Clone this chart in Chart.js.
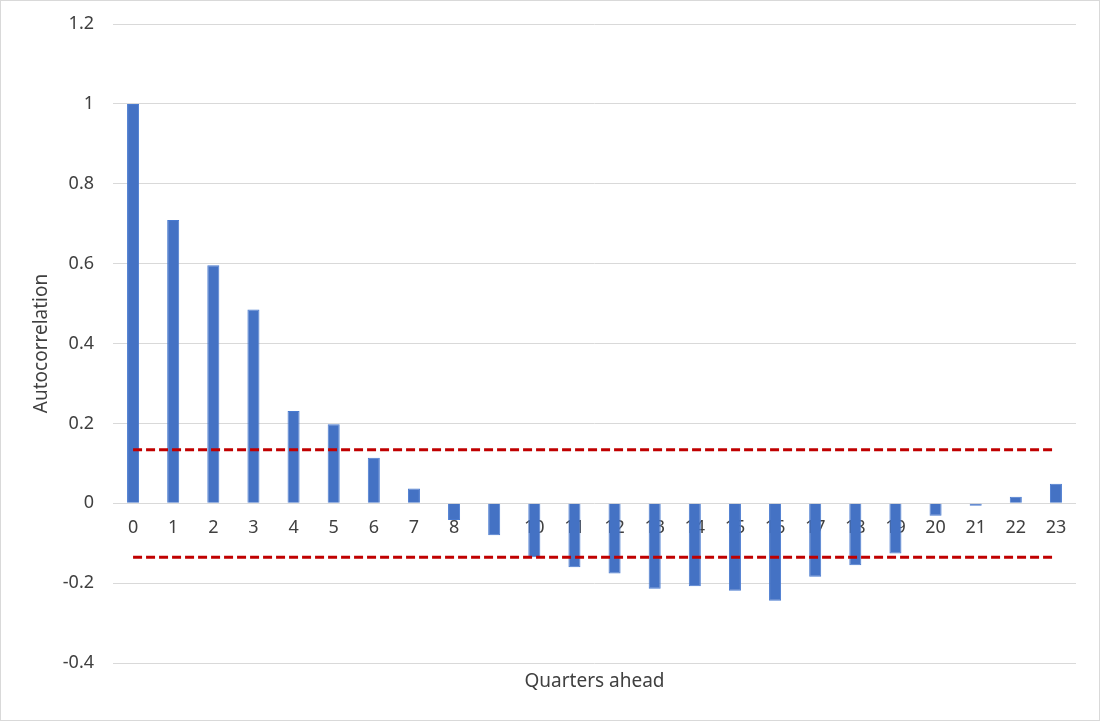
<html>
<head>
<script src="https://cdn.jsdelivr.net/npm/chart.js@4.4.0/dist/chart.umd.min.js"></script>
<style>
  body { margin: 0; background: #ffffff; }
  #wrap {
    width: 1100px;
    height: 721px;
    box-sizing: border-box;
    border: 1px solid #d9d9d9;
  }
</style>
</head>
<body>
<div id="wrap"><canvas id="acfChart"></canvas></div>

<script>
  // quarters ahead (lags) and the autocorrelation
  var quarters = ["0", "1", "2", "3", "4", "5", "6", "7", "8", "9", "10", "11",
                  "12", "13", "14", "15", "16", "17", "18", "19", "20", "21", "22", "23"];
  var autocorr = [1.0, 0.709, 0.596, 0.485, 0.231, 0.198, 0.114, 0.037, -0.042, -0.080, -0.135, -0.160,
                  -0.176, -0.214, -0.208, -0.219, -0.244, -0.184, -0.155, -0.126, -0.031, -0.006, 0.016, 0.049];
  // significance band (dashed red lines)
  var bandUpper = 0.134;
  var bandLower = -0.135;
  var yTicks = [-0.4, -0.2, 0, 0.2, 0.4, 0.6, 0.8, 1, 1.2];

  var fontFamily = "'Noto Sans', 'Open Sans', sans-serif";
  var textColor = "#404040";
  var gridColor = "#d9d9d9";

  function bandLine(value) {
    return [
      { x: quarters[0], y: value },
      { x: quarters[quarters.length - 1], y: value }
    ];
  }

  var canvas = document.getElementById("acfChart");
  canvas.width = 1098;
  canvas.height = 719;

  var acfChart = new Chart(canvas, {
    type: "bar",
    data: {
      labels: quarters,
      datasets: [
        {
          type: "line",
          label: "Upper bound",
          data: bandLine(bandUpper),
          borderColor: "#c00000",
          borderWidth: 3,
          borderDash: [9, 4],
          pointRadius: 0,
          fill: false,
          order: 0
        },
        {
          type: "line",
          label: "Lower bound",
          data: bandLine(bandLower),
          borderColor: "#c00000",
          borderWidth: 3,
          borderDash: [9, 4],
          pointRadius: 0,
          fill: false,
          order: 0
        },
        {
          label: "Autocorrelation",
          data: autocorr,
          backgroundColor: "#4472c4",
          borderColor: "#4a7bd0",
          borderWidth: 1,
          categoryPercentage: 0.3,
          barPercentage: 1.0,
          order: 1
        }
      ]
    },
    options: {
      responsive: false,
      animation: false,
      layout: {
        autoPadding: false,
        padding: { top: 23, right: 23, left: 0, bottom: 0 }
      },
      plugins: {
        legend: { display: false },
        tooltip: { enabled: false }
      },
      scales: {
        x: {
          type: "category",
          position: { y: 0 },
          grid: { display: false, drawTicks: false },
          border: { display: false },
          ticks: {
            color: textColor,
            font: { family: fontFamily, size: 18 },
            padding: 14,
            maxRotation: 0,
            autoSkip: false
          },
          afterFit: function(scale) {
            scale.height = 0;
            scale.paddingTop = 0;
            scale.paddingBottom = 0;
          }
        },
        x2: {
          type: "category",
          position: "bottom",
          labels: quarters,
          grid: { display: false, drawTicks: false },
          border: { display: false },
          ticks: { display: false },
          title: {
            display: true,
            text: "Quarters ahead",
            color: textColor,
            font: { family: fontFamily, size: 19 },
            padding: { top: 0, bottom: 27 }
          },
          afterFit: function(scale) { scale.height = 57; }
        },
        y: {
          min: yTicks[0],
          max: yTicks[yTicks.length - 1],
          afterBuildTicks: function(scale) {
            scale.ticks = yTicks.map(function(v) { return { value: v }; });
          },
          grid: { color: gridColor, lineWidth: 1, drawTicks: false },
          border: { display: false },
          ticks: {
            color: textColor,
            font: { family: fontFamily, size: 18 },
            padding: 19,
            callback: function(value) {
              return String(Math.round(value * 10) / 10);
            }
          },
          title: {
            display: true,
            text: "Autocorrelation",
            color: textColor,
            font: { family: fontFamily, size: 19 },
            padding: { top: 29, bottom: 0 }
          },
          afterFit: function(scale) {
            scale.width = 112;
            scale.paddingTop = 0;
            scale.paddingBottom = 0;
          }
        }
      }
    }
  });
</script>
</body>
</html>
